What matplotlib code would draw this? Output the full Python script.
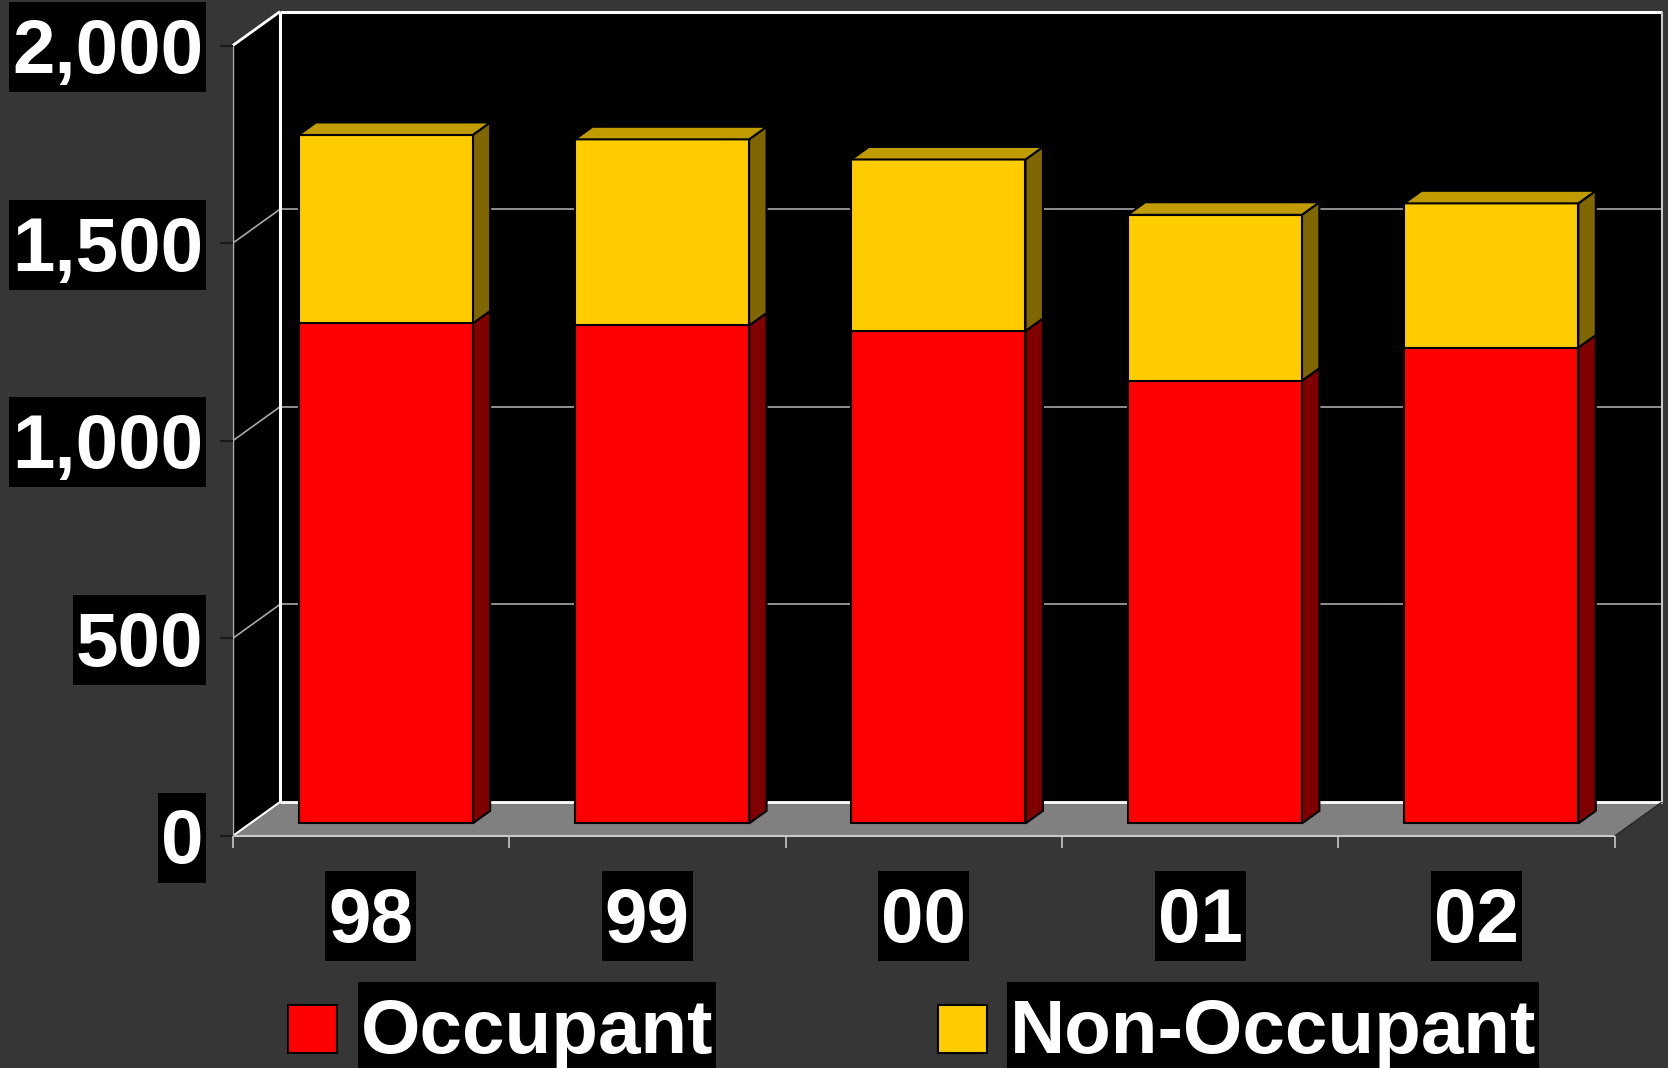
import matplotlib.pyplot as plt
from matplotlib.patches import Polygon, Rectangle
from matplotlib.transforms import IdentityTransform

plt.rcParams['font.family'] = ['Liberation Sans', 'DejaVu Sans']

# data
years = ['98', '99', '00', '01', '02']
occupant = [1265, 1260, 1246, 1120, 1204]
non_occupant = [477, 471, 434, 420, 365]
y_ticks = [0, 500, 1000, 1500, 2000]
y_tick_labels = ['0', '500', '1,000', '1,500', '2,000']
series_names = ['Occupant', 'Non-Occupant']

# colours: front, side, top
red = ('#FF0000', '#800000', '#C00000')
yellow = ('#FFCC00', '#806600', '#C09C00')

W, H = 1668, 1068
fig = plt.figure(figsize=(W / 100, H / 100), dpi=100)
fig.patch.set_facecolor('#363636')
ax = fig.add_axes([0, 0, 1, 1])
ax.axis('off')

# front plane: category axis starts at pixel 232.7, 276.4 px per category,
# value 0 at pixel row 836, 0.3952 px per unit
X0_PX, CAT_PX = 232.7, 276.4
Y0_PX, UNIT_PX = 836, 0.3952
ax.set_xlim(-X0_PX / CAT_PX - 0.5, (W - X0_PX) / CAT_PX - 0.5)
ax.set_ylim((Y0_PX - H) / UNIT_PX, Y0_PX / UNIT_PX)

# oblique depth offset (full depth), in data units
DX, DV = 0.171, 86


def proj(x, v, f):
    return (x + f * DX, v + f * DV)


n = len(years)
xl, xr = -0.5, n - 0.5
vmax = y_ticks[-1]

# walls and floor
side = [proj(xl, 0, 0), proj(xl, vmax, 0), proj(xl, vmax, 1), proj(xl, 0, 1)]
back = [proj(xl, 0, 1), proj(xr, 0, 1), proj(xr, vmax, 1), proj(xl, vmax, 1)]
floor = [proj(xl, 0, 0), proj(xr, 0, 0), proj(xr, 0, 1), proj(xl, 0, 1)]
ax.add_patch(Polygon(side, closed=True, fc='black', ec='none', zorder=1))
ax.add_patch(Polygon(back, closed=True, fc='black', ec='none', zorder=1))
ax.add_patch(Polygon(floor, closed=True, fc='#808080', ec='none', zorder=1))


def line(p, q, **kw):
    ax.plot([p[0], q[0]], [p[1], q[1]], solid_capstyle='butt', **kw)


for v in y_ticks[1:-1]:
    line(proj(xl, v, 0), proj(xl, v, 1), color='#a8a8a8', lw=1.2, zorder=2)
    line(proj(xl, v, 1), proj(xr, v, 1), color='#a8a8a8', lw=1.2, zorder=2)

line(proj(xl, vmax, 0), proj(xl, vmax, 1), color='white', lw=2, zorder=2)
line(proj(xl, vmax, 1), proj(xr, vmax, 1), color='white', lw=2.2, zorder=2)
line(proj(xl, 0, 1), proj(xl, vmax, 1), color='white', lw=2.2, zorder=2)
line(proj(xr, 0, 1), proj(xr, vmax, 1), color='#c8c8c8', lw=1.5, zorder=2)
line(proj(xl, 0, 1), proj(xr, 0, 1), color='white', lw=2, zorder=2)
line(proj(xl, 0, 0), proj(xl, 0, 1), color='white', lw=1.5, zorder=2)
line(proj(xl, 0, 0), proj(xr, 0, 0), color='#c8c8c8', lw=1.5, zorder=2)
line(proj(xl, 0, 0), proj(xl, vmax, 0), color='#b0b0b0', lw=1, zorder=2)
line(proj(xr, 0, 0), proj(xr, 0, 1), color='#2a2a2a', lw=1, zorder=2)

# tick marks
for v in y_ticks:
    line((xl - 0.046, v), (xl, v), color='#1a1a1a', lw=1.5, zorder=2)
for k in range(n + 1):
    line((xl + k, 0), (xl + k, -30), color='#c8c8c8', lw=1.2, zorder=2)

# bars
BAR_W = 0.63
F0, F1 = 0.37, 0.74
for i in range(n):
    x0 = i - BAR_W / 2 - 0.01
    x1 = x0 + BAR_W
    segs = [(0, occupant[i], red),
            (occupant[i], occupant[i] + non_occupant[i], yellow)]
    for j, (b, t, col) in enumerate(segs):
        front = [proj(x0, b, F0), proj(x1, b, F0), proj(x1, t, F0), proj(x0, t, F0)]
        sd = [proj(x1, b, F0), proj(x1, b, F1), proj(x1, t, F1), proj(x1, t, F0)]
        ax.add_patch(Polygon(sd, closed=True, fc=col[1], ec='black', lw=1.5, zorder=3))
        ax.add_patch(Polygon(front, closed=True, fc=col[0], ec='black', lw=1.5, zorder=3))
        if j == len(segs) - 1:
            top = [proj(x0, t, F0), proj(x1, t, F0), proj(x1, t, F1), proj(x0, t, F1)]
            ax.add_patch(Polygon(top, closed=True, fc=col[2], ec='black', lw=1.5, zorder=3))

# labels
FS = 55
CAP_HALF = 27.5 / UNIT_PX
texts = []
for v, lab in zip(y_ticks, y_tick_labels):
    texts.append(ax.text(xl - 0.107, v - CAP_HALF, lab, ha='right', va='baseline',
                         fontsize=FS, fontweight='bold', color='white', zorder=6))
for i, lab in enumerate(years):
    texts.append(ax.text(i, (Y0_PX - 941.7) / UNIT_PX, lab, ha='center', va='baseline',
                         fontsize=FS, fontweight='bold', color='white', zorder=6))

# legend
leg_y = (H - 1053) / H
for name, col, sq_x, tx_x in [(series_names[0], red, 288, 360.5),
                              (series_names[1], yellow, 938, 1010)]:
    ax.add_patch(Rectangle((sq_x / W, leg_y), 49 / W, 48 / H, transform=ax.transAxes,
                           fc=col[0], ec='black', lw=1.5, zorder=6))
    texts.append(ax.text(tx_x / W, leg_y, name, transform=ax.transAxes, ha='left',
                         va='baseline', fontsize=FS, fontweight='bold', color='white',
                         zorder=6))

# black boxes behind the texts
fig.canvas.draw()
renderer = fig.canvas.get_renderer()
for t in texts:
    bb = t.get_window_extent(renderer)
    base = t.get_transform().transform(t.get_position())[1]
    ax.add_patch(Rectangle((bb.x0 - 3, base - 19), bb.width + 6, 90,
                           transform=IdentityTransform(), fc='black', ec='none', zorder=5))

fig.savefig('out.png', dpi=100, facecolor=fig.get_facecolor())
